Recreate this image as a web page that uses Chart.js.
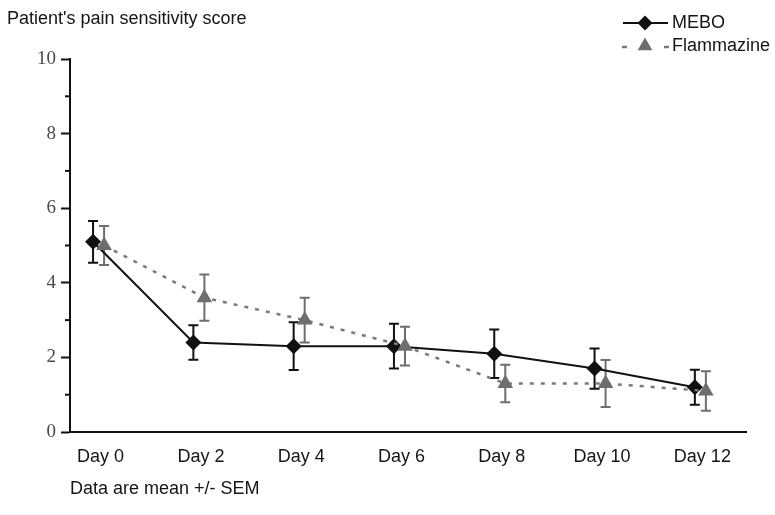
<!DOCTYPE html>
<html>
<head>
<meta charset="utf-8">
<script src="https://cdn.jsdelivr.net/npm/chart.js@4"></script>
<style>
  body { margin: 0; background: #fff; }
</style>
</head>
<body>
<canvas id="myChart" width="775" height="515"></canvas>
<script>
// values
const days = [0, 2, 4, 6, 8, 10, 12]
const dayLabels = ["Day 0", "Day 2", "Day 4", "Day 6", "Day 8", "Day 10", "Day 12"]
const meboMean = [5.1, 2.4, 2.3, 2.3, 2.1, 1.7, 1.2]
const meboSem = [0.56, 0.46, 0.64, 0.6, 0.65, 0.54, 0.47]
const flamMean = [5.0, 3.6, 3.0, 2.3, 1.3, 1.3, 1.1]
const flamSem = [0.52, 0.62, 0.6, 0.52, 0.5, 0.63, 0.53]
const yTicks = [0, 2, 4, 6, 8, 10]

const flamShift = 0.22   // triangles sit a little right of the diamonds
const sans = "'Liberation Sans', Arial, sans-serif"
const serif = "'Liberation Serif', 'Times New Roman', serif"

const meboPoints = days.map((d, i) => ({ x: d, y: meboMean[i] }))
const flamPoints = days.map((d, i) => ({ x: d + flamShift, y: flamMean[i] }))

// error bars, drawn under the markers
const errorBars = {
    id: "errorBars",
    beforeDatasetsDraw(chart) {
        const ctx = chart.ctx
        const yScale = chart.scales.y
        const sets = [
            { meta: chart.getDatasetMeta(0), mean: meboMean, sem: meboSem, color: "#111" },
            { meta: chart.getDatasetMeta(1), mean: flamMean, sem: flamSem, color: "#6e6e6e" }
        ]
        ctx.save()
        ctx.lineWidth = 2
        sets.forEach(s => {
            ctx.strokeStyle = s.color
            s.meta.data.forEach((pt, i) => {
                const top = yScale.getPixelForValue(s.mean[i] + s.sem[i])
                const bot = yScale.getPixelForValue(s.mean[i] - s.sem[i])
                ctx.beginPath()
                ctx.moveTo(pt.x, top); ctx.lineTo(pt.x, bot)
                ctx.moveTo(pt.x - 5, top); ctx.lineTo(pt.x + 5, top)
                ctx.moveTo(pt.x - 5, bot); ctx.lineTo(pt.x + 5, bot)
                ctx.stroke()
            })
        })
        ctx.restore()
    }
}

// minor y ticks, title, legend and footnote
const extras = {
    id: "extras",
    afterDraw(chart) {
        const ctx = chart.ctx
        const yScale = chart.scales.y
        const left = chart.chartArea.left
        ctx.save()
        ctx.strokeStyle = "#111"
        ctx.lineWidth = 2
        for (let v = 1; v < 10; v += 2) {
            const y = yScale.getPixelForValue(v)
            ctx.beginPath(); ctx.moveTo(left - 5, y); ctx.lineTo(left, y); ctx.stroke()
        }

        ctx.fillStyle = "#151515"
        ctx.font = "18px " + sans
        ctx.textBaseline = "middle"
        ctx.fillText("Patient's pain sensitivity score", 7, 19)
        ctx.fillText("Data are mean +/- SEM", 70, 489)

        // legend
        ctx.fillText("MEBO", 672, 23)
        ctx.fillText("Flammazine", 672, 46)
        ctx.strokeStyle = "#111"
        ctx.beginPath(); ctx.moveTo(623, 23); ctx.lineTo(668, 23); ctx.stroke()
        ctx.fillStyle = "#111"
        ctx.beginPath()
        ctx.moveTo(645 - 7.5, 23); ctx.lineTo(645, 15.5); ctx.lineTo(645 + 7.5, 23); ctx.lineTo(645, 30.5)
        ctx.closePath(); ctx.fill()

        ctx.strokeStyle = "#7a7a7a"
        ctx.lineWidth = 2.5
        ctx.beginPath()
        ctx.moveTo(622, 47); ctx.lineTo(627, 47)
        ctx.moveTo(664, 47); ctx.lineTo(669, 47)
        ctx.stroke()
        ctx.fillStyle = "#6e6e6e"
        const r = 8.5
        ctx.beginPath()
        ctx.moveTo(645, 46 - r)
        ctx.lineTo(645 + r * 0.866, 46 + r / 2)
        ctx.lineTo(645 - r * 0.866, 46 + r / 2)
        ctx.closePath(); ctx.fill()
        ctx.restore()
    }
}

var chartField = document.querySelector("#myChart").getContext("2d")

var myChart = new Chart(chartField, {
    type: "line",
    data: {
        datasets: [{
            label: "MEBO",
            data: meboPoints,
            borderColor: "#111",
            borderWidth: 2,
            pointStyle: "rectRot",
            pointRadius: 8,
            pointBackgroundColor: "#111",
            pointBorderColor: "#111",
            pointBorderWidth: 0,
            order: 1
        }, {
            label: "Flammazine",
            data: flamPoints,
            borderColor: "#7a7a7a",
            borderWidth: 2.5,
            borderDash: [4, 7],
            pointStyle: "triangle",
            pointRadius: 9,
            pointBackgroundColor: "#6e6e6e",
            pointBorderColor: "#6e6e6e",
            pointBorderWidth: 0,
            order: 0
        }]
    },
    options: {
        responsive: false,
        animation: false,
        layout: { padding: { left: 0, top: 59, right: 29, bottom: 0 } },
        plugins: {
            legend: { display: false },
            tooltip: { enabled: false }
        },
        scales: {
            x: {
                type: "linear",
                min: -0.46,
                max: 13.02,
                afterBuildTicks: scale => {
                    scale.ticks = days.map(d => ({ value: d + 0.15 }))
                },
                afterFit: scale => { scale.height = 83 },
                ticks: {
                    autoSkip: false,
                    maxRotation: 0,
                    padding: 14,
                    color: "#151515",
                    font: { family: sans, size: 18 },
                    callback: (v, i) => dayLabels[i]
                },
                grid: { drawOnChartArea: false, drawTicks: false },
                border: { color: "#111", width: 2 }
            },
            y: {
                min: 0,
                max: 10,
                afterBuildTicks: scale => {
                    scale.ticks = yTicks.map(v => ({ value: v }))
                },
                afterFit: scale => { scale.width = 70 },
                ticks: {
                    padding: 5,
                    color: "#4a4a4a",
                    font: { family: serif, size: 19 }
                },
                grid: { drawOnChartArea: false, tickLength: 9, tickColor: "#111", tickWidth: 2 },
                border: { color: "#111", width: 2 }
            }
        }
    },
    plugins: [errorBars, extras]
});
</script>
</body>
</html>
